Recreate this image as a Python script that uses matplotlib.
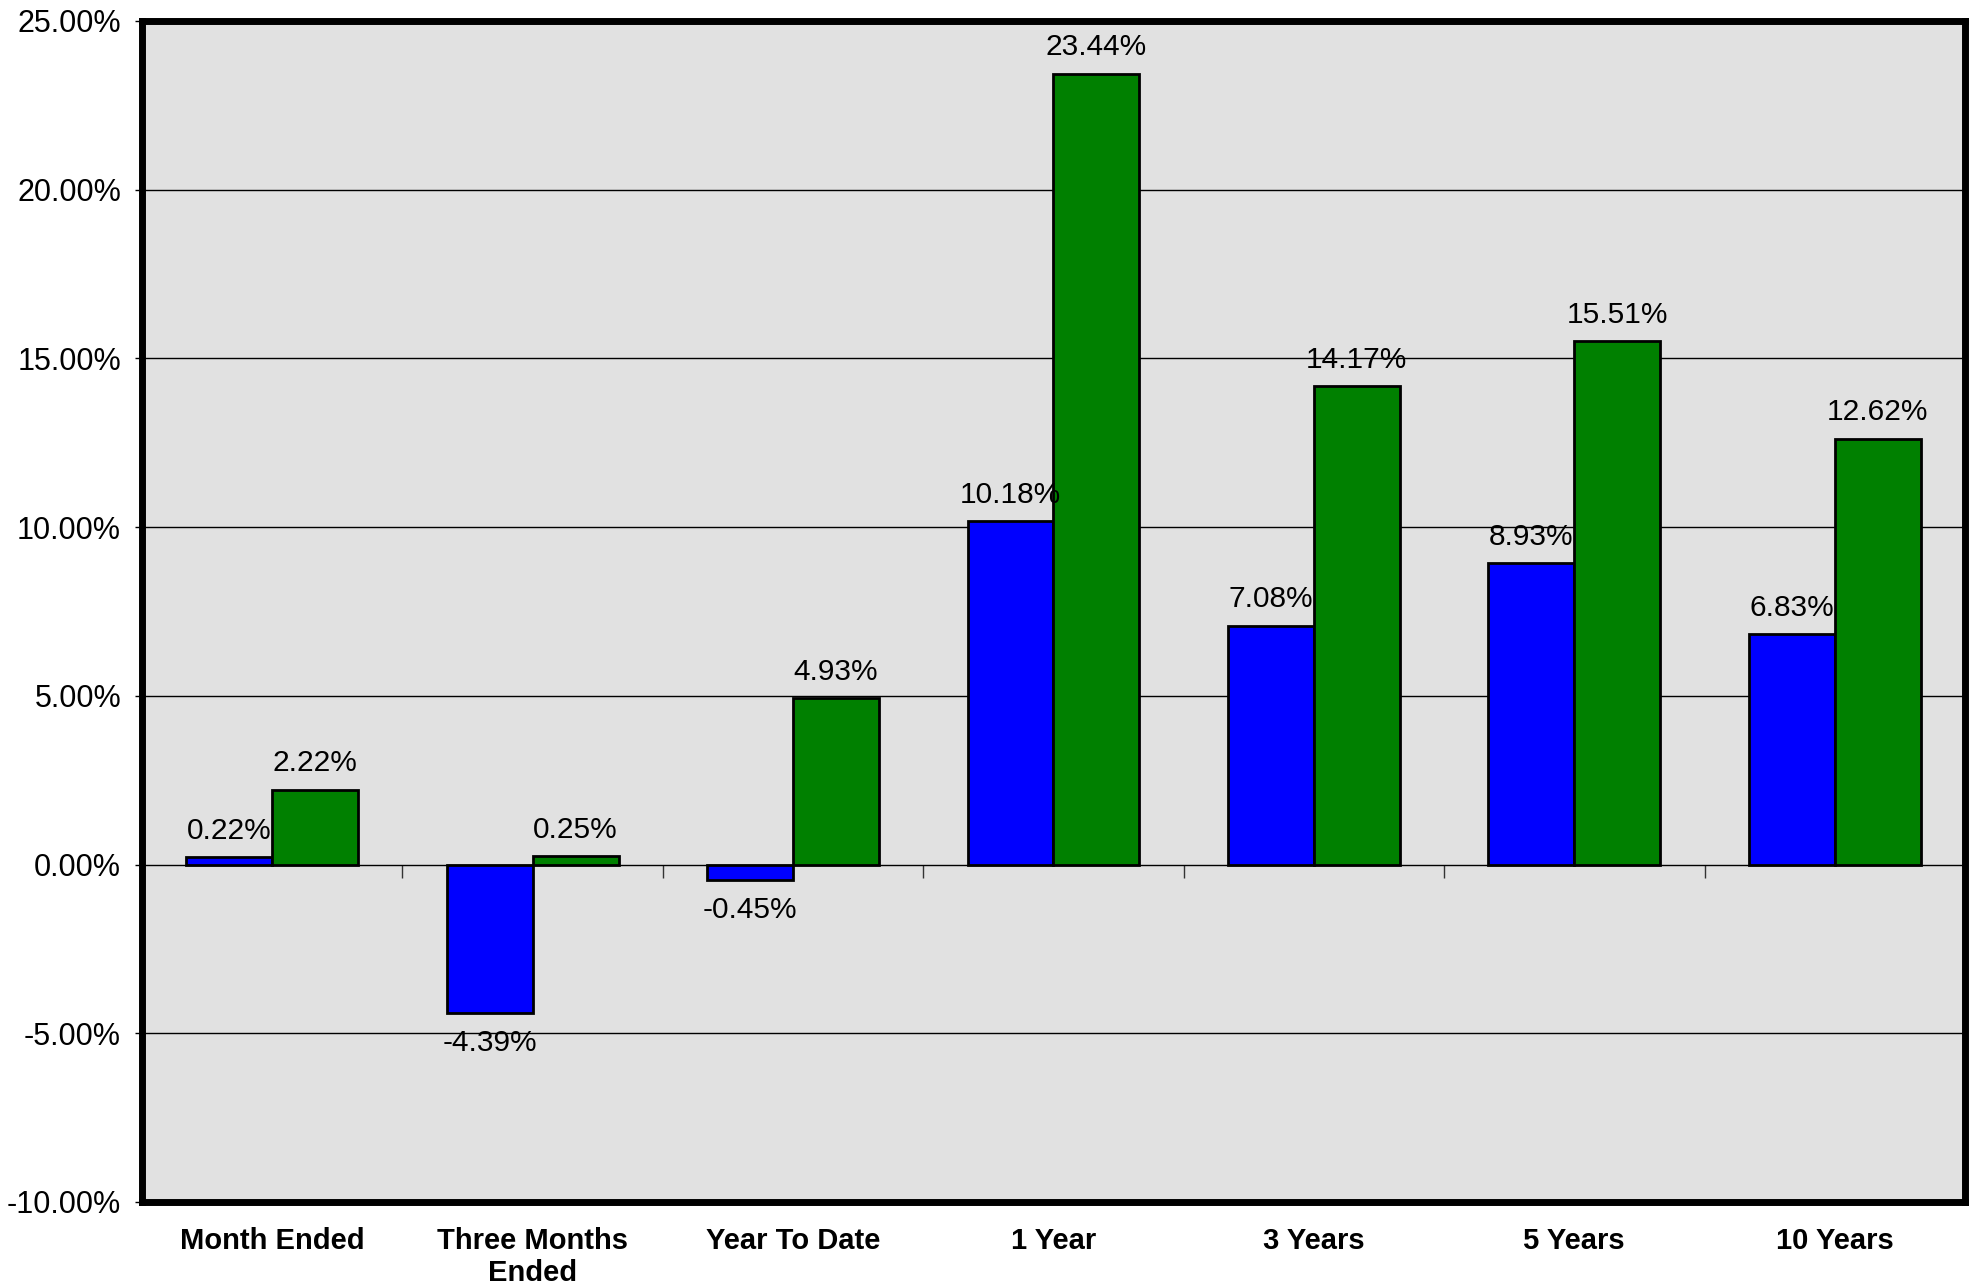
import matplotlib
matplotlib.use("Agg")
import matplotlib.pyplot as plt
import numpy as np
from matplotlib.ticker import FuncFormatter

categories = ["Month Ended", "Three Months\nEnded", "Year To Date", "1 Year", "3 Years", "5 Years", "10 Years"]
series_blue = [0.22, -4.39, -0.45, 10.18, 7.08, 8.93, 6.83]
series_green = [2.22, 0.25, 4.93, 23.44, 14.17, 15.51, 12.62]
yticks = [-10, -5, 0, 5, 10, 15, 20, 25]

plt.rcParams['font.family'] = ['Liberation Sans', 'DejaVu Sans']

fig = plt.figure(figsize=(19.77, 12.85), dpi=100)
ax = fig.add_axes([0.0718, 0.0646, 0.9939 - 0.0718, 0.9837 - 0.0646])
ax.set_facecolor('#e1e1e1')

x = np.arange(len(categories))
w = 0.33
b1 = ax.bar(x - w / 2, series_blue, w, color='#0000ff', edgecolor='black', linewidth=2, zorder=3)
b2 = ax.bar(x + w / 2, series_green, w, color='#008000', edgecolor='black', linewidth=2, zorder=3)

for bars, vals in ((b1, series_blue), (b2, series_green)):
    for rect, v in zip(bars, vals):
        cx = rect.get_x() + rect.get_width() / 2
        if v >= 0:
            ax.annotate(f"{v:.2f}%", (cx, v), xytext=(0, 9), textcoords='offset points',
                        ha='center', va='bottom', fontsize=21.5, zorder=4)
        else:
            ax.annotate(f"{v:.2f}%", (cx, v), xytext=(0, -12), textcoords='offset points',
                        ha='center', va='top', fontsize=21.5, zorder=4)

ax.set_xlim(-0.5, len(categories) - 0.5)
ax.set_ylim(-10, 25)
ax.set_yticks(yticks)
ax.yaxis.set_major_formatter(FuncFormatter(lambda v, p: f"{v:.2f}%"))
ax.tick_params(axis='y', labelsize=22, length=5, width=1, direction='out', pad=10)
ax.yaxis.grid(True, color='black', linewidth=1.0, zorder=1)
ax.set_axisbelow(True)

ax.set_xticks(x)
ax.set_xticklabels(categories, fontsize=21, fontweight='bold', linespacing=1.2)
ax.tick_params(axis='x', length=0, pad=18)

for s in ax.spines.values():
    s.set_linewidth(5)
    s.set_color('black')

# category-boundary tick marks along the zero line
sec = ax.secondary_xaxis(10 / 35)
sec.set_xticks(np.arange(0.5, len(categories) - 0.5, 1.0))
sec.set_xticklabels([])
sec.tick_params(axis='x', direction='out', length=9, width=1, color='#333333')
sec.spines['bottom'].set_visible(False)
sec.spines['top'].set_visible(False)

fig.savefig("out.png", dpi=100)
